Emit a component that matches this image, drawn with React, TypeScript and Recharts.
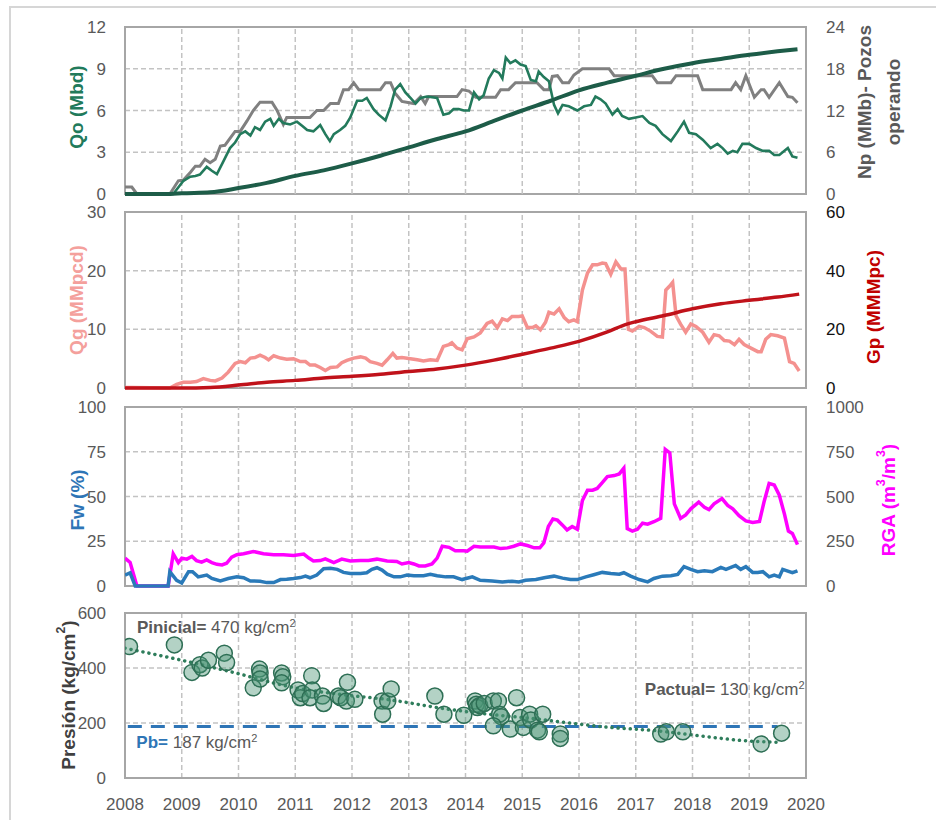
import React from 'react';
import {
  ComposedChart,
  Line,
  Scatter,
  XAxis,
  YAxis,
  CartesianGrid,
  ReferenceArea,
  ReferenceLine,
  ReferenceDot,
} from 'recharts';

const FONT = '"Liberation Sans", Arial, Helvetica, sans-serif';

const yearTicks = [2008, 2009, 2010, 2011, 2012, 2013, 2014, 2015, 2016, 2017, 2018, 2019, 2020];

// Panel 1: Qo (Mbd), Np (MMb), Pozos operando
const qo: [number, number][] = [
  [2008.0, 0], [2008.85, 0], [2009.03, 0.95], [2009.15, 1.24], [2009.24, 1.3], [2009.32, 1.4],
  [2009.44, 1.95], [2009.53, 1.67], [2009.62, 1.43], [2009.74, 2.4], [2009.85, 3.3], [2009.94, 3.7],
  [2010.03, 4.3], [2010.12, 4.5], [2010.21, 4.2], [2010.29, 4.8], [2010.38, 4.6], [2010.47, 5.2],
  [2010.56, 5.4], [2010.62, 4.9], [2010.71, 5.4], [2010.79, 5.1], [2010.91, 5.0], [2011.03, 5.2],
  [2011.12, 4.9], [2011.21, 4.6], [2011.32, 4.5], [2011.44, 4.95], [2011.53, 4.3], [2011.61, 3.8],
  [2011.68, 4.3], [2011.79, 4.6], [2011.88, 4.9], [2011.97, 5.5], [2012.09, 6.7], [2012.18, 6.7],
  [2012.26, 6.9], [2012.38, 6.1], [2012.47, 5.7], [2012.59, 5.3], [2012.68, 6.3], [2012.76, 7.5],
  [2012.85, 7.9], [2012.94, 7.3], [2013.03, 6.9], [2013.12, 6.5], [2013.21, 6.9], [2013.32, 7.0],
  [2013.5, 6.9], [2013.61, 5.7], [2013.71, 5.8], [2013.79, 6.1], [2013.88, 6.1], [2013.97, 6.0],
  [2014.06, 6.0], [2014.15, 7.3], [2014.24, 6.8], [2014.32, 7.1], [2014.41, 8.3], [2014.5, 8.9],
  [2014.59, 8.7], [2014.65, 8.3], [2014.71, 9.8], [2014.79, 9.4], [2014.88, 9.6], [2014.97, 9.3],
  [2015.06, 9.2], [2015.15, 8.2], [2015.24, 8.1], [2015.29, 8.8], [2015.38, 8.4], [2015.47, 8.1],
  [2015.56, 6.4], [2015.63, 5.8], [2015.71, 6.4], [2015.82, 6.3], [2015.97, 6.0], [2016.09, 6.3],
  [2016.21, 6.4], [2016.29, 7.0], [2016.38, 6.8], [2016.47, 6.5], [2016.59, 5.7], [2016.68, 6.1],
  [2016.76, 5.6], [2016.88, 5.4], [2017.0, 5.5], [2017.12, 5.6], [2017.24, 5.1], [2017.35, 4.9],
  [2017.47, 4.3], [2017.62, 3.8], [2017.74, 4.5], [2017.85, 5.2], [2017.94, 4.4], [2018.06, 4.3],
  [2018.18, 3.9], [2018.32, 3.3], [2018.44, 3.6], [2018.53, 3.3], [2018.62, 2.9], [2018.71, 3.1],
  [2018.79, 3.0], [2018.88, 3.6], [2019.0, 3.6], [2019.12, 3.3], [2019.24, 3.1], [2019.35, 3.1],
  [2019.44, 2.8], [2019.53, 2.8], [2019.68, 3.3], [2019.76, 2.7], [2019.85, 2.6],
];

const pozos: [number, number][] = [
  [2008.0, 1], [2008.12, 1], [2008.21, 0], [2008.79, 0], [2008.94, 1.9], [2009.03, 2],
  [2009.15, 3.1], [2009.24, 4], [2009.32, 4], [2009.41, 5], [2009.5, 4.5], [2009.59, 5],
  [2009.68, 6.9], [2009.76, 7], [2009.85, 8], [2009.94, 9], [2010.03, 9], [2010.15, 10.5],
  [2010.26, 12], [2010.38, 13.2], [2010.59, 13.2], [2010.68, 12], [2010.79, 10], [2010.85, 11],
  [2011.26, 11], [2011.38, 12], [2011.5, 12], [2011.62, 13], [2011.76, 13], [2011.85, 15],
  [2011.94, 15], [2012.03, 16], [2012.12, 15], [2012.5, 15], [2012.59, 16], [2012.68, 16],
  [2012.76, 14.5], [2012.88, 13.3], [2013.09, 13], [2013.21, 14], [2013.29, 13], [2013.35, 14],
  [2013.85, 14], [2013.94, 15], [2014.06, 14.8], [2014.18, 13.9], [2014.53, 13.9], [2014.62, 15],
  [2014.76, 15], [2014.88, 16], [2015.26, 16], [2015.38, 15], [2015.47, 15], [2015.53, 16.9],
  [2015.62, 17], [2015.71, 16], [2015.82, 16], [2015.91, 17.1], [2016.06, 18], [2016.53, 18],
  [2016.62, 17], [2017.29, 17], [2017.38, 16], [2017.62, 16], [2017.71, 17], [2018.09, 17],
  [2018.18, 15], [2018.68, 15], [2018.76, 16], [2018.85, 15], [2018.94, 17], [2019.09, 13.9],
  [2019.21, 15], [2019.26, 15], [2019.35, 13.9], [2019.53, 16], [2019.68, 14], [2019.76, 13.9],
  [2019.85, 13.1],
];

const np: [number, number][] = [
  [2008.0, 0], [2008.8, 0], [2009.0, 0.1], [2009.5, 0.25], [2010.0, 0.85], [2010.5, 1.6],
  [2011.0, 2.6], [2011.5, 3.4], [2012.0, 4.4], [2012.5, 5.5], [2013.0, 6.7], [2013.5, 7.9],
  [2014.0, 9.0], [2014.5, 10.5], [2015.0, 12], [2015.5, 13.4], [2016.0, 14.9], [2016.5, 16],
  [2017.0, 17], [2017.5, 18], [2018.0, 18.8], [2018.5, 19.4], [2019.0, 20], [2019.5, 20.5],
  [2019.85, 20.8],
];

// Panel 2: Qg (MMpcd), Gp (MMMpc)
const qg: [number, number][] = [
  [2008.0, 0.1], [2008.12, 0.1], [2008.79, 0], [2008.91, 0.6], [2009.03, 1.0], [2009.15, 1.0],
  [2009.26, 1.1], [2009.38, 1.6], [2009.5, 1.3], [2009.59, 1.2], [2009.71, 1.7], [2009.82, 2.7],
  [2009.94, 4.2], [2010.03, 4.5], [2010.12, 4.3], [2010.21, 5.1], [2010.29, 5.2], [2010.38, 5.6],
  [2010.47, 5.2], [2010.53, 4.8], [2010.62, 5.5], [2010.74, 5.1], [2010.85, 4.9], [2010.97, 5.0],
  [2011.09, 4.5], [2011.18, 4.5], [2011.26, 3.9], [2011.35, 3.9], [2011.44, 3.5], [2011.53, 3.0],
  [2011.62, 3.5], [2011.74, 3.6], [2011.82, 4.3], [2011.91, 4.7], [2012.03, 5.1], [2012.15, 5.3],
  [2012.24, 5.1], [2012.32, 4.5], [2012.44, 4.2], [2012.53, 3.9], [2012.62, 4.8], [2012.72, 5.9],
  [2012.79, 5.1], [2012.88, 5.2], [2013.03, 5.0], [2013.15, 4.8], [2013.26, 4.6], [2013.38, 4.8],
  [2013.5, 4.7], [2013.61, 7.1], [2013.71, 7.4], [2013.76, 7.7], [2013.85, 6.8], [2013.94, 6.5],
  [2014.03, 8.4], [2014.15, 8.7], [2014.26, 9.4], [2014.38, 11], [2014.47, 11.4], [2014.56, 10.3],
  [2014.65, 11.8], [2014.74, 11.5], [2014.82, 12.2], [2014.94, 12.2], [2015.0, 12.3], [2015.09, 10.3],
  [2015.18, 10.3], [2015.24, 10.6], [2015.32, 9.9], [2015.41, 11.2], [2015.47, 12.9], [2015.56, 12.6],
  [2015.65, 13.5], [2015.74, 12.0], [2015.82, 11.3], [2015.91, 11.6], [2015.97, 11.3], [2016.06, 16.7],
  [2016.15, 19.6], [2016.24, 21], [2016.32, 21], [2016.41, 21.3], [2016.47, 21.2], [2016.56, 19.4],
  [2016.65, 21.5], [2016.74, 20.3], [2016.81, 20.3], [2016.87, 10.0], [2016.94, 9.7], [2017.06, 10.5],
  [2017.15, 10.3], [2017.26, 9.7], [2017.38, 8.8], [2017.47, 8.7], [2017.53, 16.7], [2017.59, 17.3],
  [2017.65, 18], [2017.71, 12.3], [2017.79, 10.9], [2017.88, 9.5], [2017.97, 10.9], [2018.06, 10.5],
  [2018.18, 9.5], [2018.29, 7.8], [2018.38, 9.1], [2018.47, 8.9], [2018.56, 8.1], [2018.65, 8.0],
  [2018.74, 7.4], [2018.82, 8.3], [2018.91, 7.4], [2019.03, 6.8], [2019.15, 6.2], [2019.21, 6.2],
  [2019.29, 8.3], [2019.38, 9.1], [2019.5, 8.9], [2019.62, 8.5], [2019.71, 4.5], [2019.79, 4.2],
  [2019.88, 2.9],
];

const gp: [number, number][] = [
  [2008.0, 0], [2009.0, 0], [2009.5, 0.2], [2010.0, 1.0], [2010.5, 2.0], [2011.0, 2.6],
  [2011.5, 3.4], [2012.0, 4.0], [2012.5, 4.7], [2013.0, 5.6], [2013.5, 6.5], [2014.0, 7.8],
  [2014.5, 9.5], [2015.0, 11.5], [2015.5, 13.6], [2016.0, 15.9], [2016.5, 19.1], [2016.83, 21.7],
  [2017.0, 22.6], [2017.5, 24.7], [2018.0, 27], [2018.5, 28.7], [2019.0, 29.9], [2019.5, 31],
  [2019.88, 32],
];

// Panel 3: Fw (%), RGA (m3/m3)
const fw: [number, number][] = [
  [2008.0, 6.1], [2008.09, 7.4], [2008.18, 0], [2008.76, 0], [2008.79, 8], [2008.91, 3.2],
  [2009.0, 1.7], [2009.12, 8], [2009.19, 8], [2009.29, 5.1], [2009.44, 6.1], [2009.53, 4.2],
  [2009.68, 2.8], [2009.82, 4.2], [2009.97, 5.1], [2010.09, 4.6], [2010.21, 2.8], [2010.38, 2.7],
  [2010.5, 1.9], [2010.62, 1.9], [2010.74, 3.6], [2010.85, 3.8], [2010.97, 4.2], [2011.09, 4.7],
  [2011.18, 5.5], [2011.26, 4.6], [2011.38, 6.1], [2011.5, 9.7], [2011.62, 9.9], [2011.74, 9.3],
  [2011.85, 7.6], [2011.97, 7.0], [2012.15, 7.0], [2012.26, 7.4], [2012.35, 9.3], [2012.44, 10.2],
  [2012.53, 8.9], [2012.62, 6.6], [2012.74, 5.1], [2012.85, 5.1], [2012.97, 6.1], [2013.09, 5.7],
  [2013.26, 5.7], [2013.38, 6.5], [2013.5, 5.7], [2013.65, 5.1], [2013.79, 5.1], [2013.94, 3.6],
  [2014.12, 5.1], [2014.26, 3.2], [2014.47, 2.8], [2014.65, 2.3], [2014.82, 2.7], [2014.94, 2.3],
  [2015.06, 3.2], [2015.24, 3.6], [2015.41, 4.7], [2015.56, 5.5], [2015.71, 4.4], [2015.85, 3.6],
  [2015.97, 3.6], [2016.12, 5.1], [2016.26, 6.3], [2016.41, 7.6], [2016.56, 7.0], [2016.71, 6.6],
  [2016.79, 7.4], [2016.91, 5.5], [2017.06, 3.6], [2017.21, 2.3], [2017.32, 4.2], [2017.47, 5.5],
  [2017.62, 5.7], [2017.74, 6.5], [2017.85, 10.8], [2017.97, 9.3], [2018.09, 8.0], [2018.21, 8.5],
  [2018.35, 8.0], [2018.5, 10.4], [2018.59, 9.3], [2018.71, 10.8], [2018.76, 11.4], [2018.85, 9.3],
  [2018.94, 10.8], [2019.06, 7.6], [2019.15, 7.6], [2019.24, 8.0], [2019.35, 5.1], [2019.44, 6.1],
  [2019.53, 5.1], [2019.59, 9.3], [2019.68, 8.3], [2019.76, 7.4], [2019.85, 8.5],
];

const rga: [number, number][] = [
  [2008.0, 156], [2008.09, 131], [2008.21, 0], [2008.76, 0], [2008.85, 180], [2008.94, 131],
  [2009.0, 156], [2009.09, 150], [2009.18, 165], [2009.26, 142], [2009.35, 133], [2009.44, 146],
  [2009.53, 131], [2009.62, 121], [2009.71, 118], [2009.79, 127], [2009.88, 161], [2009.97, 175],
  [2010.09, 180], [2010.26, 193], [2010.44, 180], [2010.62, 175], [2010.79, 175], [2010.97, 171],
  [2011.15, 178], [2011.24, 156], [2011.32, 140], [2011.44, 142], [2011.53, 152], [2011.68, 131],
  [2011.82, 150], [2011.97, 140], [2012.15, 142], [2012.29, 142], [2012.44, 150], [2012.62, 140],
  [2012.79, 137], [2012.88, 123], [2013.0, 131], [2013.09, 123], [2013.18, 112], [2013.29, 112],
  [2013.41, 123], [2013.5, 156], [2013.59, 222], [2013.71, 216], [2013.82, 197], [2013.97, 197],
  [2014.03, 194], [2014.15, 222], [2014.26, 218], [2014.38, 218], [2014.5, 218], [2014.62, 209],
  [2014.74, 213], [2014.85, 222], [2014.97, 235], [2015.09, 226], [2015.21, 213], [2015.31, 213],
  [2015.38, 241], [2015.46, 332], [2015.54, 374], [2015.62, 368], [2015.71, 340], [2015.79, 313],
  [2015.88, 332], [2015.97, 317], [2016.06, 478], [2016.15, 535], [2016.24, 535], [2016.32, 545],
  [2016.41, 577], [2016.5, 611], [2016.62, 617], [2016.71, 626], [2016.79, 658], [2016.85, 321],
  [2016.94, 307], [2017.03, 317], [2017.12, 351], [2017.21, 345], [2017.32, 359], [2017.44, 378],
  [2017.52, 763], [2017.6, 744], [2017.68, 459], [2017.79, 378], [2017.88, 397], [2017.97, 431],
  [2018.11, 469], [2018.21, 440], [2018.29, 427], [2018.38, 459], [2018.52, 488], [2018.62, 450],
  [2018.71, 431], [2018.82, 393], [2018.94, 364], [2019.06, 355], [2019.18, 361], [2019.26, 469],
  [2019.35, 573], [2019.44, 564], [2019.53, 507], [2019.62, 402], [2019.69, 307], [2019.76, 294],
  [2019.85, 231],
];

// Panel 4: Presión (kg/cm2)
const presion: [number, number][] = [
  [2008.08, 478], [2008.87, 484], [2009.18, 384], [2009.32, 412], [2009.36, 400], [2009.47, 428],
  [2009.75, 454], [2009.79, 420], [2010.26, 328], [2010.37, 396], [2010.38, 382], [2010.38, 360],
  [2010.76, 382], [2010.78, 368], [2010.76, 346], [2011.05, 320], [2011.09, 292], [2011.13, 307],
  [2011.29, 372], [2011.3, 320], [2011.26, 292], [2011.48, 298], [2011.5, 271], [2011.76, 298],
  [2011.8, 292], [2011.92, 348], [2011.9, 280], [2012.05, 286], [2012.53, 280], [2012.54, 232],
  [2012.63, 280], [2012.69, 324], [2013.46, 298], [2013.62, 232], [2013.97, 228], [2014.17, 280],
  [2014.19, 268], [2014.21, 256], [2014.25, 264], [2014.33, 271], [2014.49, 280], [2014.58, 280],
  [2014.6, 232], [2014.63, 223], [2014.49, 190], [2014.79, 178], [2014.9, 292], [2014.96, 220],
  [2015.02, 184], [2015.13, 232], [2015.15, 211], [2015.27, 174], [2015.3, 168], [2015.36, 232],
  [2015.67, 160], [2015.67, 144], [2017.44, 160], [2017.54, 168], [2017.83, 168], [2019.21, 124],
  [2019.57, 163],
];

const presionTrend: [number, number][] = [
  [2008.0, 472], [2008.96, 430], [2009.83, 388], [2011.0, 328], [2011.8, 304], [2012.6, 286],
  [2013.7, 250], [2014.4, 232], [2015.2, 216], [2015.75, 202], [2016.55, 184], [2017.35, 172],
  [2018.1, 154], [2018.9, 136], [2019.5, 130],
];

const PB = 187;
const pbRange = [2008.05, 2019.5];

const rows = (pts: [number, number][]) => pts.map(([t, v]) => ({ t, v }));

type Part = { s: string; sup?: boolean; bold?: boolean; color?: string };

function renderParts(parts: Part[], size: number) {
  const shift = size * 0.35;
  let raised = false;
  return parts.map((p, i) => {
    let dy = 0;
    if (p.sup && !raised) { dy = -shift; raised = true; }
    else if (!p.sup && raised) { dy = shift; raised = false; }
    return (
      <tspan
        key={i}
        dy={dy || undefined}
        fontSize={p.sup ? size * 0.65 : size}
        fontWeight={p.bold === undefined ? undefined : p.bold ? 'bold' : 'normal'}
        fill={p.color}
      >
        {p.s}
      </tspan>
    );
  });
}

// rotated axis title, placed at a fixed spot of the chart's svg
const VTitle = ({ cx, cy, parts, color, size = 19 }: any) => (
  <text
    x={cx}
    y={cy}
    transform={`rotate(-90 ${cx} ${cy})`}
    textAnchor="middle"
    dominantBaseline="central"
    fill={color}
    fontFamily={FONT}
    fontWeight="bold"
    fontSize={size}
  >
    {renderParts(parts, size)}
  </text>
);

const MultiTitle = ({ items }: any) => (
  <g>
    {items.map((it: any, i: number) => (
      <VTitle key={i} {...it} />
    ))}
  </g>
);

// annotation anchored on a ReferenceDot (r = 0, so viewBox x/y is the point)
const Note = ({ viewBox, parts }: any) => (
  <text x={viewBox.x} y={viewBox.y} fontFamily={FONT} fontSize={17} fill="#595959">
    {renderParts(parts, 17)}
  </text>
);

const tickL = { fill: '#595959', fontSize: 17, fontFamily: FONT };
const gridProps = { stroke: '#c3c3c3', strokeDasharray: '5 3', strokeWidth: 1.5 };
const frameProps = { fill: 'none', stroke: '#a6a6a6', strokeWidth: 2, fillOpacity: 0 };

// vertical year gridlines, drawn through the x scale
const yearLines = (yId?: string) =>
  yearTicks.slice(1, -1).map((y) => (
    <ReferenceLine key={y} x={y} yAxisId={yId} {...gridProps} />
  ));

const hiddenX = (
  <XAxis
    dataKey="t"
    type="number"
    domain={[2008, 2020]}
    ticks={yearTicks}
    height={0}
    tick={false}
    axisLine={false}
    tickLine={false}
    allowDataOverflow
  />
);

export default function App() {
  return (
    <div style={{ position: 'absolute', left: 0, top: 0, width: 936, height: 820, background: '#fff', overflow: 'hidden' }}>
      <div
        style={{
          position: 'absolute', left: 9, top: 6, width: 980, height: 860,
          border: '2px solid #d6d6d6', boxSizing: 'border-box',
        }}
      />

      {/* Qo / Np / Pozos */}
      <div style={{ position: 'absolute', left: 0, top: 17 }}>
        <ComposedChart width={936} height={187} margin={{ top: 10, right: 0, bottom: 10, left: 0 }}>
          <CartesianGrid yAxisId="l" vertical={false} {...gridProps} />
          {hiddenX}
          <YAxis
            yAxisId="l" orientation="left" width={125} domain={[0, 12]} ticks={[0, 3, 6, 9, 12]}
            tick={tickL} tickMargin={13} axisLine={false} tickLine={false}
            label={<VTitle cx={76} cy={90} color="#217a5b" parts={[{ s: 'Qo (Mbd)' }]} />}
          />
          <YAxis
            yAxisId="r" orientation="right" width={130} domain={[0, 24]} ticks={[0, 6, 12, 18, 24]}
            tick={tickL} tickMargin={14} axisLine={false} tickLine={false}
            label={
              <MultiTitle
                items={[
                  { cx: 864, cy: 85, color: '#595959', parts: [{ s: 'Np (MMb)- Pozos' }] },
                  { cx: 893, cy: 85, color: '#595959', parts: [{ s: 'operando' }] },
                ]}
              />
            }
          />
          {yearLines('l')}
          <ReferenceArea yAxisId="l" x1={2008} x2={2020} y1={0} y2={12} {...frameProps} />
          <Line yAxisId="r" data={rows(pozos)} dataKey="v" stroke="#808080" strokeWidth={3} dot={false} isAnimationActive={false} />
          <Line yAxisId="l" data={rows(qo)} dataKey="v" stroke="#237a5c" strokeWidth={2.6} dot={false} isAnimationActive={false} />
          <Line yAxisId="r" data={rows(np)} dataKey="v" stroke="#1d5c48" strokeWidth={4} dot={false} type="monotone" isAnimationActive={false} />
        </ComposedChart>
      </div>

      {/* Qg / Gp */}
      <div style={{ position: 'absolute', left: 0, top: 202 }}>
        <ComposedChart width={936} height={196} margin={{ top: 10, right: 0, bottom: 10, left: 0 }}>
          <CartesianGrid yAxisId="l" vertical={false} {...gridProps} />
          {hiddenX}
          <YAxis
            yAxisId="l" orientation="left" width={125} domain={[0, 30]} ticks={[0, 10, 20, 30]}
            tick={tickL} tickMargin={13} axisLine={false} tickLine={false}
            label={<VTitle cx={76} cy={98} color="#f4a09c" parts={[{ s: 'Qg (MMpcd)' }]} />}
          />
          <YAxis
            yAxisId="r" orientation="right" width={130} domain={[0, 60]} ticks={[0, 20, 40, 60]}
            tick={{ ...tickL, fill: '#111' }} tickMargin={14} axisLine={false} tickLine={false}
            label={<VTitle cx={873} cy={105} color="#c00000" parts={[{ s: 'Gp (MMMpc)' }]} />}
          />
          {yearLines('l')}
          <ReferenceArea yAxisId="l" x1={2008} x2={2020} y1={0} y2={30} {...frameProps} />
          <Line yAxisId="l" data={rows(qg)} dataKey="v" stroke="#f4918f" strokeWidth={3.5} dot={false} isAnimationActive={false} />
          <Line yAxisId="r" data={rows(gp)} dataKey="v" stroke="#c0121a" strokeWidth={3.5} dot={false} type="monotone" isAnimationActive={false} />
        </ComposedChart>
      </div>

      {/* Fw / RGA */}
      <div style={{ position: 'absolute', left: 0, top: 397 }}>
        <ComposedChart width={936} height={199} margin={{ top: 10, right: 0, bottom: 10, left: 0 }}>
          <CartesianGrid yAxisId="l" vertical={false} {...gridProps} />
          {hiddenX}
          <YAxis
            yAxisId="l" orientation="left" width={125} domain={[0, 100]} ticks={[0, 25, 50, 75, 100]}
            tick={tickL} tickMargin={13} axisLine={false} tickLine={false}
            label={<VTitle cx={77} cy={103} color="#2e75b6" parts={[{ s: 'Fw (%)' }]} />}
          />
          <YAxis
            yAxisId="r" orientation="right" width={130} domain={[0, 1000]} ticks={[0, 250, 500, 750, 1000]}
            tick={tickL} tickMargin={14} axisLine={false} tickLine={false}
            label={
              <VTitle
                cx={888} cy={103} color="#ff00ff"
                parts={[{ s: 'RGA (m' }, { s: '3', sup: true }, { s: '/m' }, { s: '3', sup: true }, { s: ')' }]}
              />
            }
          />
          {yearLines('l')}
          <ReferenceArea yAxisId="l" x1={2008} x2={2020} y1={0} y2={100} {...frameProps} />
          <Line yAxisId="r" data={rows(rga)} dataKey="v" stroke="#ff00ff" strokeWidth={3.5} dot={false} isAnimationActive={false} />
          <Line yAxisId="l" data={rows(fw)} dataKey="v" stroke="#2a7ab9" strokeWidth={3.5} dot={false} isAnimationActive={false} />
        </ComposedChart>
      </div>

      {/* Presión */}
      <div style={{ position: 'absolute', left: 0, top: 603 }}>
        <ComposedChart width={936} height={215} margin={{ top: 10, right: 130, bottom: 0, left: 0 }}>
          <CartesianGrid {...gridProps} />
          <XAxis
            dataKey="t" type="number" domain={[2008, 2020]} ticks={yearTicks} interval={0}
            height={40} tick={tickL} tickMargin={14} axisLine={false} tickLine={false} allowDataOverflow
          />
          <YAxis
            dataKey="v" orientation="left" width={125} domain={[0, 600]} ticks={[0, 200, 400, 600]}
            tick={tickL} tickMargin={13} axisLine={false} tickLine={false}
            label={
              <VTitle
                cx={68} cy={92} color="#404040"
                parts={[{ s: 'Presión (kg/cm' }, { s: '2', sup: true }, { s: ')' }]}
              />
            }
          />
          <ReferenceArea x1={2008} x2={2020} y1={0} y2={600} {...frameProps} />
          <ReferenceLine
            segment={[{ x: pbRange[0], y: PB }, { x: pbRange[1], y: PB }]}
            stroke="#2e75b6" strokeWidth={3} strokeDasharray="14 9"
          />
          <Line data={rows(presionTrend)} dataKey="v" stroke="#2e7d5b" strokeWidth={3.5} strokeDasharray="0.1 6" strokeLinecap="round" dot={false} type="monotone" isAnimationActive={false} />
          <Scatter
            data={rows(presion)}
            isAnimationActive={false}
            shape={(p: any) => (
              <circle cx={p.cx} cy={p.cy} r={8} fill="#4a9474" fillOpacity={0.42} stroke="#2e6f55" strokeWidth={1.5} />
            )}
          />
          <ReferenceDot
            x={2008.21} y={527} r={0} fill="none" stroke="none" ifOverflow="visible"
            label={
              <Note
                parts={[
                  { s: 'Pinicial=', bold: true },
                  { s: ' 470 kg/cm', bold: false },
                  { s: '2', sup: true },
                ]}
              />
            }
          />
          <ReferenceDot
            x={2017.16} y={302} r={0} fill="none" stroke="none" ifOverflow="visible"
            label={
              <Note
                parts={[
                  { s: 'Pactual=', bold: true },
                  { s: ' 130 kg/cm', bold: false },
                  { s: '2', sup: true },
                ]}
              />
            }
          />
          <ReferenceDot
            x={2008.2} y={109} r={0} fill="none" stroke="none" ifOverflow="visible"
            label={
              <Note
                parts={[
                  { s: 'Pb=', bold: true, color: '#2e75b6' },
                  { s: ' 187 kg/cm', bold: false },
                  { s: '2', sup: true },
                ]}
              />
            }
          />
        </ComposedChart>
      </div>
    </div>
  );
}
